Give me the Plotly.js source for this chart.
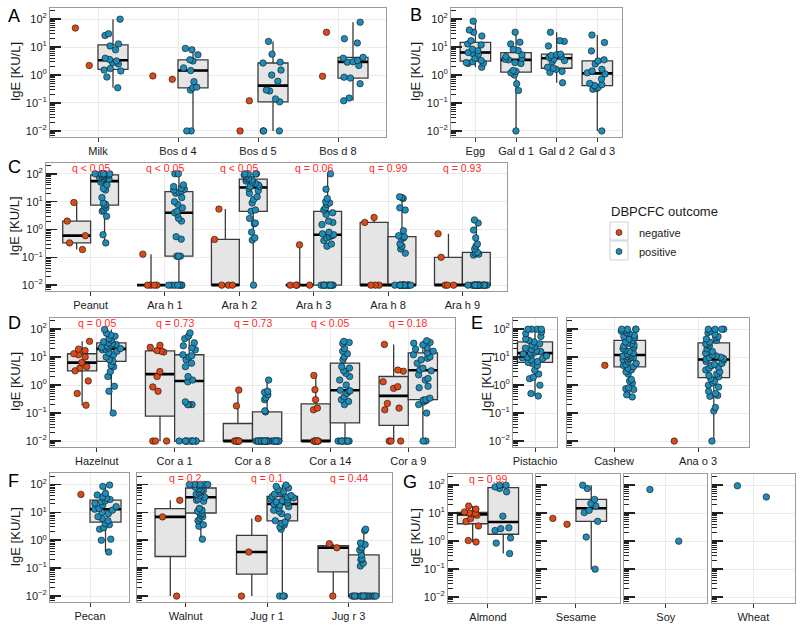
<!DOCTYPE html>
<html><head><meta charset="utf-8">
<script src="https://cdn.plot.ly/plotly-3.0.1.min.js"></script>
<style>html,body{margin:0;padding:0;background:#fff}#plot{width:800px;height:626px}</style>
</head><body><div id="plot"></div>
<script>
// ---------------- DATA (IgE, KU/L) ----------------
const A_cats = ['Milk', 'Bos d 4', 'Bos d 5', 'Bos d 8'];
const A_neg = [[48, 2.2], [0.93, 0.7], [0.12, 0.01], [34, 0.9]];
const A_pos = [
  [100, 30, 26, 13, 11, 8, 4, 3.6, 3.2, 2.8, 2.5, 1.7, 1.5, 1.4, 0.85, 0.35],
  [9, 8, 5.3, 3.5, 3.2, 1.8, 1.45, 0.58, 0.37, 0.35, 0.29, 0.01, 0.01],
  [16, 5.6, 2.9, 2.7, 1.5, 1.0, 0.6, 0.29, 0.27, 0.14, 0.11, 0.01, 0.01, 0.01],
  [78, 20, 14, 4.3, 4.0, 3.3, 3.0, 2.9, 2.2, 0.84, 0.78, 0.49, 0.15, 0.12]
];

const B_cats = ['Egg', 'Gal d 1', 'Gal d 2', 'Gal d 3'];
const B_pos = [
  [85, 41, 34, 25, 17, 13, 12, 8.4, 7.4, 6.4, 6.0, 5.6, 4.0, 3.3, 3.0, 2.8, 2.7, 2.6, 1.9],
  [34, 15, 13, 8.2, 7.5, 5.3, 4.6, 4.0, 3.7, 3.5, 2.8, 2.6, 1.45, 1.35, 1.2, 1.0, 0.49, 0.28, 0.01],
  [34, 17, 16, 11, 5.6, 5.3, 5.0, 4.6, 4.3, 3.7, 3.3, 3.0, 1.9, 1.75, 1.6, 1.35, 1.25, 0.53],
  [27, 14.6, 7.3, 3.5, 3.2, 2.5, 1.6, 1.4, 1.2, 1.1, 0.72, 0.5, 0.45, 0.42, 0.36, 0.33, 0.31, 0.01]
];

const C_cats = ['Peanut', 'Ara h 1', 'Ara h 2', 'Ara h 3', 'Ara h 8', 'Ara h 9'];
const C_neg = [
  [9.3, 2.0, 0.6, 0.33, 0.19],
  [0.13, 0.01, 0.01, 0.01, 0.01],
  [5.4, 0.44, 0.01, 0.01, 0.01],
  [0.28, 0.01, 0.01, 0.01, 0.01],
  [2.7, 1.8, 0.01, 0.01, 0.01],
  [0.7, 0.1, 0.01, 0.01, 0.01]
];
const C_pos = [
  [100, 100, 100, 100, 100, 100, 95, 90, 85, 80, 75, 70, 65, 60, 50, 40, 30, 26, 14, 9, 8, 7, 6, 5, 4.5, 3, 0.65, 0.33],
  [100, 100, 40, 35, 30, 28, 26, 24, 22, 20, 14, 10, 8, 6, 4.5, 4, 3.5, 2.5, 2, 0.55, 0.45, 0.11, 0.11, 0.11, 0.01, 0.01, 0.01, 0.01, 0.01, 0.01, 0.01],
  [100, 100, 100, 100, 90, 80, 70, 65, 60, 55, 50, 45, 40, 35, 35, 30, 25, 20, 15, 12, 9, 5, 4.5, 2.5, 1.7, 1.6, 0.8, 0.5, 0.42, 0.01],
  [100, 28, 13, 10, 9, 8, 6, 5, 4, 3.5, 2, 1.8, 1.5, 0.8, 0.7, 0.65, 0.6, 0.55, 0.5, 0.4, 0.3, 0.25, 0.01, 0.01, 0.01, 0.01, 0.01, 0.01, 0.01, 0.01, 0.01],
  [15, 14, 13, 6, 5, 0.9, 0.6, 0.55, 0.5, 0.45, 0.3, 0.25, 0.2, 0.14, 0.01, 0.01, 0.01, 0.01, 0.01, 0.01, 0.01, 0.01, 0.01, 0.01, 0.01, 0.01, 0.01, 0.01, 0.01],
  [2.2, 1.7, 0.95, 0.5, 0.3, 0.25, 0.2, 0.15, 0.14, 0.13, 0.12, 0.01, 0.01, 0.01, 0.01, 0.01, 0.01, 0.01, 0.01, 0.01, 0.01, 0.01, 0.01, 0.01, 0.01, 0.01, 0.01, 0.01, 0.01]
];
const C_q = ['q < 0.05', 'q < 0.05', 'q < 0.05', 'q = 0.06', 'q = 0.99', 'q = 0.93'];

const D_cats = ['Hazelnut', 'Cor a 1', 'Cor a 8', 'Cor a 14', 'Cor a 9'];
const D_neg = [
  [36, 19, 17, 13, 12, 10, 6.3, 4.5, 4, 3.2, 1.4, 0.5, 0.19],
  [26, 22, 17, 16, 15, 3, 2, 0.85, 0.6, 0.01, 0.01, 0.01],
  [0.66, 0.18, 0.01, 0.01, 0.01, 0.01, 0.01, 0.01],
  [2.2, 0.68, 0.3, 0.15, 0.13, 0.01, 0.01, 0.01, 0.01, 0.01, 0.01],
  [28, 3.4, 3.1, 1.3, 0.87, 0.76, 0.22, 0.15, 0.13, 0.01, 0.01, 0.01]
];
const D_pos = [
  [95, 70, 60, 55, 45, 40, 35, 32, 30, 28, 26, 24, 22, 21, 20, 19, 18, 16, 14, 12, 10, 8, 7, 5, 4.5, 3, 2, 0.9, 0.6, 0.1],
  [72, 55, 45, 32, 25, 21, 18, 12, 11, 10, 8, 6, 4.5, 2, 1.5, 1.3, 0.25, 0.2, 0.2, 0.2, 0.01, 0.01, 0.01, 0.01, 0.01, 0.01, 0.01, 0.01, 0.01, 0.01],
  [1.5, 0.6, 0.55, 0.45, 0.35, 0.3, 0.12, 0.11, 0.01, 0.01, 0.01, 0.01, 0.01, 0.01, 0.01, 0.01, 0.01, 0.01, 0.01, 0.01, 0.01, 0.01, 0.01, 0.01, 0.01, 0.01, 0.01, 0.01, 0.01, 0.01],
  [36, 33, 30, 20, 16, 13, 10, 8, 4.5, 4, 3.2, 2.6, 2, 1.5, 1.0, 0.65, 0.62, 0.6, 0.5, 0.38, 0.3, 0.26, 0.2, 0.01, 0.01, 0.01, 0.01, 0.01, 0.01, 0.01, 0.01],
  [38, 33, 31, 27, 21, 19, 16, 14, 12, 10, 9, 8, 6, 4, 3.5, 3.2, 2.3, 1.7, 1.5, 0.9, 0.8, 0.34, 0.3, 0.29, 0.28, 0.25, 0.2, 0.1, 0.01, 0.01]
];
const D_q = ['q = 0.05', 'q = 0.73', 'q = 0.73', 'q < 0.05', 'q = 0.18'];

const E1_cats = ['Pistachio'];
const E1_pos = [
  [100, 100, 100, 100, 80, 70, 55, 45, 40, 35, 30, 27, 24, 21, 19, 17, 16, 15, 14, 13, 12, 11, 10, 9.5, 9, 8, 7, 6.5, 6, 5, 3.4, 2.5, 1.9, 1.7, 1.0, 0.5, 0.41]
];
const E2_cats = ['Cashew', 'Ana o 3'];
const E2_neg = [[5.1], [0.01]];
const E2_pos = [
  [100, 100, 100, 100, 90, 85, 75, 70, 60, 55, 50, 45, 40, 35, 32, 30, 27, 25, 22, 20, 18, 16, 14, 13, 12, 11, 10.5, 10, 9.5, 9, 8.5, 8, 7, 6, 5.5, 5, 4.5, 4, 3.5, 3, 2.5, 1.6, 1.4, 1.2, 0.8, 0.75, 0.7, 0.45, 0.38],
  [100, 100, 100, 100, 85, 75, 65, 55, 50, 45, 40, 35, 30, 28, 25, 20, 16, 14, 12, 11, 10, 9.5, 9, 8.5, 8, 7, 6, 5.5, 5, 4.5, 4, 3.5, 3, 2.5, 2.2, 2, 1.7, 1.4, 1.2, 1.0, 0.85, 0.6, 0.5, 0.43, 0.4, 0.16, 0.12, 0.01]
];

const F1_cats = ['Pecan'];
const F1_neg = [[44]];
const F1_pos = [[95, 85, 48, 42, 36, 32, 29, 26, 24, 21, 18, 16, 14, 13, 12, 10, 9, 7, 6, 5, 4, 3.6, 2.8, 2.5, 1.1, 1.0, 0.38]];
const F2_cats = ['Walnut', 'Jug r 1', 'Jug r 3'];
const F2_neg = [[27, 6.9, 0.01], [6, 0.38, 0.01], [0.75, 0.54, 0.01]];
const F2_pos = [
  [100, 100, 100, 100, 100, 95, 90, 80, 70, 65, 60, 55, 50, 45, 40, 35, 30, 27, 25, 14, 12, 11, 10, 9, 8, 7, 6, 5, 3.6, 3.2, 1.1],
  [95, 85, 75, 65, 55, 50, 45, 40, 37, 35, 33, 30, 28, 26, 24, 22, 20, 18, 16, 14, 12, 11, 9, 7, 5, 4.5, 4, 3.5, 3, 2.5, 0.01, 0.01, 0.01],
  [2.5, 2.2, 0.8, 0.7, 0.55, 0.45, 0.3, 0.22, 0.2, 0.15, 0.12, 0.01, 0.01, 0.01, 0.01, 0.01, 0.01, 0.01, 0.01, 0.01, 0.01, 0.01, 0.01, 0.01, 0.01, 0.01]
];
const F2_q = ['q = 0.2', 'q = 0.1', 'q = 0.44'];

const G1_cats = ['Almond'];
const G1_neg = [[18, 14, 11, 10.2, 10, 9.7, 8.4, 6.4, 5, 3.5, 1.05, 0.93]];
const G1_pos = [[100, 100, 87, 76, 58, 7.8, 3.0, 2.8, 2.4, 1.3, 0.85, 0.36]];
const G1_q = ['q = 0.99'];
const G2_cats = ['Sesame'];
const G2_neg = [[6.5, 4.0]];
const G2_pos = [[100, 76, 31, 22, 18, 12.6, 10.5, 5.1, 1.4, 0.1]];
const G3_cats = ['Soy'];
const G3_pos = [[70, 1.0]];
const G4_cats = ['Wheat'];
const G4_pos = [[95, 38]];

const Y_TICKS = [0.01, 0.1, 1, 10, 100];
const Y_TICKTEXT = ['10<sup>\u22122</sup>', '10<sup>\u22121</sup>', '10<sup>0</sup>', '10<sup>1</sup>', '10<sup>2</sup>'];

// ---------------- STYLE / LAYOUT ----------------
const W = 800, H = 626;
const FONT = 'Liberation Sans, Arial, Helvetica, sans-serif';
const NEG_COLOR = '#dd4a1a', POS_COLOR = '#1f8dba';
const YR = [-2.2, 2.4];
const QY = Math.log10(165);

const panels = [
  {cats: A_cats, neg: A_neg, pos: A_pos, px: [50, 386], py: [8, 136.5], xr: [-0.6, 3.6], labels: true},
  {cats: B_cats, neg: null, pos: B_pos, px: [451, 621.7], py: [8, 136.5], xr: [-0.6, 3.6], labels: true},
  {cats: C_cats, neg: C_neg, pos: C_pos, px: [46, 507], py: [162.7, 290.7], xr: [-0.6, 5.6], labels: true, q: C_q},
  {cats: D_cats, neg: D_neg, pos: D_pos, px: [50, 455], py: [317.7, 446.7], xr: [-0.6, 4.6], labels: true, q: D_q},
  {cats: E1_cats, neg: null, pos: E1_pos, px: [513, 557], py: [318, 446.7], xr: [-0.47, 0.47], labels: true},
  {cats: E2_cats, neg: E2_neg, pos: E2_pos, px: [567, 748.7], py: [318, 446.7], xr: [-0.56, 1.603], labels: false},
  {cats: F1_cats, neg: F1_neg, pos: F1_pos, px: [50, 128.7], py: [473.3, 601.7], xr: [-0.484, 0.468], labels: true},
  {cats: F2_cats, neg: F2_neg, pos: F2_pos, px: [136.7, 391.7], py: [473.3, 601.7], xr: [-0.6, 2.53], labels: false, q: F2_q},
  {cats: G1_cats, neg: G1_neg, pos: G1_pos, px: [448, 531.7], py: [474, 602.7], xr: [-0.49, 0.536], labels: true, q: G1_q},
  {cats: G2_cats, neg: G2_neg, pos: G2_pos, px: [536, 620], py: [474, 602.7], xr: [-0.49, 0.54], labels: false},
  {cats: G3_cats, neg: null, pos: G3_pos, px: [624.3, 707.3], py: [474, 602.7], xr: [-0.5, 0.5], labels: false},
  {cats: G4_cats, neg: null, pos: G4_pos, px: [711.7, 795], py: [474, 602.7], xr: [-0.5, 0.5], labels: false}
];

const minorVals = [];
for (let d = -3; d <= 2; d++) for (let k = 2; k <= 9; k++) minorVals.push(d + Math.log10(k));

function median(a) {
  const s = a.slice().sort((p, q) => p - q), n = s.length;
  return n % 2 ? s[(n - 1) / 2] : (s[n / 2 - 1] + s[n / 2]) / 2;
}

const traces = [];
const annotations = [];
const layout = {
  width: W, height: H,
  margin: {l: 0, r: 0, t: 0, b: 0},
  paper_bgcolor: '#fff', plot_bgcolor: '#fff',
  font: {family: FONT, size: 11, color: '#1a1a1a'},
  boxmode: 'group', boxgap: 0.25, boxgroupgap: 0,
  showlegend: true,
  legend: {
    x: 599 / W, y: 1 - 218 / H, xanchor: 'left', yanchor: 'top',
    font: {family: FONT, size: 11, color: '#1a1a1a'},
    bgcolor: 'rgba(0,0,0,0)', borderwidth: 0, tracegroupgap: 0, itemwidth: 30
  },
  shapes: [
    {type: 'rect', xref: 'paper', yref: 'paper', x0: 610 / W, x1: 628 / W, y0: 1 - 240 / H, y1: 1 - 222 / H,
      line: {color: '#cfcfcf', width: 1}, fillcolor: 'rgba(0,0,0,0)', layer: 'below'},
    {type: 'rect', xref: 'paper', yref: 'paper', x0: 610 / W, x1: 628 / W, y0: 1 - 260 / H, y1: 1 - 241 / H,
      line: {color: '#cfcfcf', width: 1}, fillcolor: 'rgba(0,0,0,0)', layer: 'below'}
  ],
  annotations: annotations
};

panels.forEach((p, i) => {
  const k = i + 1, sfx = k === 1 ? '' : String(k);
  const xa = 'x' + sfx, ya = 'y' + sfx;
  const groups = [];
  if (p.neg) groups.push(['neg', p.neg, NEG_COLOR]);
  groups.push(['pos', p.pos, POS_COLOR]);
  groups.forEach(([g, vals, color]) => {
    const bx = [], by = [], mx = [], my = [], qx = [], qy = [];
    p.cats.forEach((c, j) => {
      const v = vals[j];
      if (!v || !v.length) return;
      const lv = v.map(Math.log10);
      lv.forEach(y => { qx.push(c); qy.push(y); });
      if (v.length >= 3) {
        lv.forEach(y => { bx.push(c); by.push(y); });
        mx.push(c); my.push(median(lv));
      }
    });
    const common = {type: 'box', xaxis: xa, yaxis: ya, offsetgroup: g, showlegend: false,
      hoverinfo: 'skip', quartilemethod: 'inclusive', whiskerwidth: 0};
    if (bx.length) {
      traces.push(Object.assign({}, common, {x: bx, y: by, boxpoints: false,
        fillcolor: '#e5e5e5', line: {color: '#3a3a3a', width: 1.3}}));
      traces.push(Object.assign({}, common, {x: mx, y: my, boxpoints: false,
        fillcolor: 'rgba(0,0,0,0)', line: {color: '#000', width: 2.6}}));
    }
    traces.push(Object.assign({}, common, {x: qx, y: qy, boxpoints: 'all', jitter: 0.8, pointpos: 0,
      fillcolor: 'rgba(0,0,0,0)', line: {color: 'rgba(0,0,0,0)', width: 0},
      marker: {color: color, size: 6.5, line: {color: '#111', width: 0.6}}}));
  });

  layout['xaxis' + sfx] = {
    domain: [p.px[0] / W, p.px[1] / W], anchor: ya, type: 'category',
    categoryorder: 'array', categoryarray: p.cats, range: p.xr,
    showline: true, mirror: true, linecolor: '#9a9a9a', linewidth: 1,
    showgrid: true, gridcolor: '#ebebeb', gridwidth: 1, zeroline: false,
    ticks: 'outside', ticklen: 4, tickwidth: 1, tickcolor: '#333',
    tickfont: {family: FONT, size: 11, color: '#1a1a1a'}, fixedrange: true
  };
  layout['yaxis' + sfx] = {
    domain: [1 - p.py[1] / H, 1 - p.py[0] / H], anchor: xa, range: YR,
    tickmode: 'array', tickvals: Y_TICKS.map(Math.log10), ticktext: Y_TICKTEXT,
    showticklabels: p.labels,
    ticks: 'inside', ticklen: 11, tickwidth: 1.6, tickcolor: '#222',
    minor: {tickmode: 'array', tickvals: minorVals, ticks: 'inside', ticklen: 5,
      tickwidth: 1, tickcolor: '#222', showgrid: false},
    showline: true, mirror: true, linecolor: '#9a9a9a', linewidth: 1,
    showgrid: true, gridcolor: '#ebebeb', gridwidth: 1, zeroline: false,
    tickfont: {family: FONT, size: 11, color: '#1a1a1a'}, fixedrange: true
  };

  if (p.q) {
    p.q.forEach((t, j) => annotations.push({
      xref: xa, yref: ya, x: p.cats[j], y: QY, text: t, showarrow: false,
      xanchor: 'center', yanchor: 'middle', font: {family: FONT, size: 10.5, color: '#ff2a2a'}
    }));
  }
});

// legend entries
[['negative', NEG_COLOR], ['positive', POS_COLOR]].forEach(([name, color]) => {
  traces.push({type: 'scatter', mode: 'markers', x: [null], y: [null], xaxis: 'x', yaxis: 'y',
    name: name, showlegend: true, hoverinfo: 'skip',
    marker: {color: color, size: 6, line: {color: '#111', width: 0.6}}});
});
annotations.push({xref: 'paper', yref: 'paper', x: 609 / W, y: 1 - 212 / H, text: 'DBPCFC outcome',
  showarrow: false, xanchor: 'left', yanchor: 'middle', font: {family: FONT, size: 13, color: '#1a1a1a'}});

// y-axis titles and panel letters
const yTitles = [[15, 72.25], [415, 72.25], [15, 226.7], [15, 382.2], [486, 382.4], [15, 537.5], [415, 538.3]];
yTitles.forEach(([x, y]) => annotations.push({
  xref: 'paper', yref: 'paper', x: x / W, y: 1 - y / H, text: 'IgE [KU/L]', textangle: -90,
  showarrow: false, xanchor: 'center', yanchor: 'middle', font: {family: FONT, size: 13, color: '#1a1a1a'}
}));
const letters = [['A', 14, 16], ['B', 416, 14.5], ['C', 14, 166.5], ['D', 14, 323], ['E', 477, 323], ['F', 13, 481], ['G', 410, 481.5]];
letters.forEach(([t, x, y]) => annotations.push({
  xref: 'paper', yref: 'paper', x: x / W, y: 1 - y / H, text: t, showarrow: false,
  xanchor: 'center', yanchor: 'middle', font: {family: FONT, size: 18, color: '#000'}
}));

Plotly.newPlot('plot', traces, layout, {displayModeBar: false, staticPlot: true});
</script>
</body></html>
